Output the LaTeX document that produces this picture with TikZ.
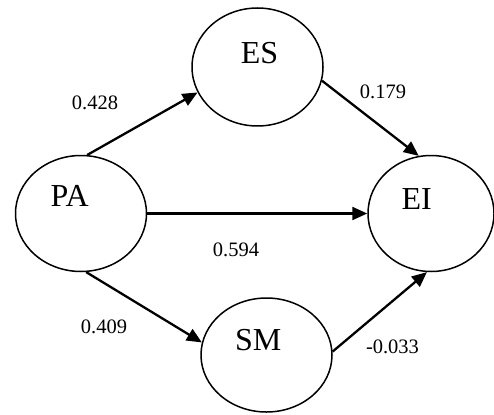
\documentclass[tikz,border=0pt]{standalone}
\usepackage{fontspec}
\setmainfont{Liberation Serif}
\usetikzlibrary{arrows.meta,shapes.geometric}
\begin{document}
\begin{tikzpicture}[x=1pt,y=-1pt,
  latent/.style={ellipse,draw,line width=1.5pt,inner sep=0pt,minimum width=131pt,minimum height=116pt},
  vlabel/.style={inner sep=0pt,font=\fontsize{32}{32}\selectfont},
  coef/.style={inner sep=0pt,font=\fontsize{20.5}{21}\selectfont},
  path/.style={line width=2.3pt,-{Triangle[length=15pt,width=13pt]}}]
\useasboundingbox (0,0) rectangle (494,414);
\node[latent] (PA) at (81,213.5) {};
\node[latent,minimum width=131pt,minimum height=118pt] (ES) at (257.5,67) {};
\node[latent,minimum width=126pt] (EI) at (431,213.5) {};
\node[latent,minimum height=114pt] (SM) at (266.5,355) {};
\node[vlabel] (tPA) at (69.7,196) {PA};
\node[vlabel] (tES) at (259.5,53) {ES};
\node[vlabel] (tEI) at (416.7,199) {EI};
\node[vlabel] (tSM) at (258.3,340) {SM};
\draw[path] (PA.84) -- (ES.203);
\draw[path] (ES.-12) -- (EI.102);
\draw[path] (PA) -- (EI);
\draw[path] (PA.275) -- (SM.169);
\draw[path] (SM.3.5) -- (EI.266);
\node[coef] (c1) at (95,103) {0.428};
\node[coef] (c2) at (383,91.7) {0.179};
\node[coef] (c3) at (236,250) {0.594};
\node[coef] (c4) at (104,326.7) {0.409};
\node[coef] (c5) at (392.5,346.7) {-0.033};
\end{tikzpicture}
\end{document}
